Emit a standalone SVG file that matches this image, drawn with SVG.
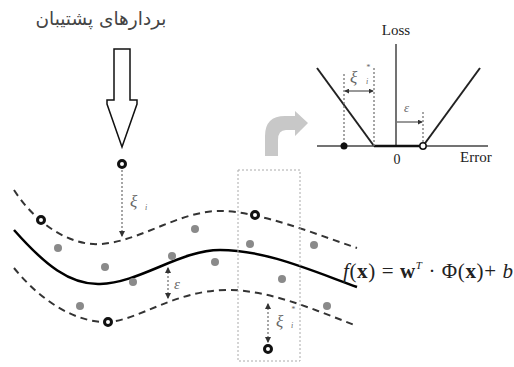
<svg xmlns="http://www.w3.org/2000/svg" width="514" height="367" viewBox="0 0 514 367">
<style>
.dash{fill:none;stroke:#333;stroke-width:2;stroke-dasharray:7,5}
.solid{fill:none;stroke:#000;stroke-width:2.5}
.dot{fill:#8a8a8a}
.sv{fill:#fff;stroke:#111;stroke-width:3}
.dotted{fill:none;stroke:#777;stroke-width:1.3;stroke-dasharray:2,2}
.axis{fill:none;stroke:#444;stroke-width:1.5}
.ser{font-family:"Liberation Serif",serif;fill:#222}
.greek{font-family:"Liberation Serif",serif;font-style:italic;fill:#666}
</style>
<defs>
<marker id="ah" viewBox="0 0 6 6" refX="5" refY="3" markerWidth="5" markerHeight="5" orient="auto-start-reverse"><path d="M0,0 L6,3 L0,6 Z" fill="#333"/></marker>
</defs>

<g id="title"><text x="101" y="25" text-anchor="middle" font-family="DejaVu Sans, sans-serif" font-size="18.5" fill="#444">بردارهای پشتیبان</text></g>

<g id="big-arrow"><path d="M114,49 L130,49 L130,100 L137,100 L137,104 L122,147 L107,104 L107,100 L114,100 Z" fill="#fff" stroke="#111" stroke-width="1.5"/></g>

<g id="curved-arrow"><path d="M265,156 L265,136 Q265,116 285,116 L295,116 L295,111 L308,123 L295,136 L295,130 L286,130 Q278,130 278,140 L278,156 Z" fill="#c8c8c8"/></g>

<g id="band">
<path class="dash" d="M14,190 C36,224 70,246 100,244 C140,242 180,210 222,211 C260,212 310,232 357,248"/>
<path class="solid" d="M14,230 C45,265 70,285 100,284 C140,283 180,250 220,250 C265,250 310,270 357,287"/>
<path class="dash" d="M14,268 C40,300 75,323 108,322 C140,320 175,290 228,290 C270,290 315,310 357,326"/>
</g>

<g id="highlight-box"><rect x="238" y="170" width="62" height="191" fill="none" stroke="#aaa" stroke-width="1" stroke-dasharray="2,2"/></g>

<g id="points">
<circle class="dot" cx="58" cy="248" r="4"/>
<circle class="dot" cx="105" cy="267" r="4"/>
<circle class="dot" cx="133" cy="282" r="4"/>
<circle class="dot" cx="172" cy="256" r="4"/>
<circle class="dot" cx="195" cy="229" r="4"/>
<circle class="dot" cx="215" cy="262" r="4"/>
<circle class="dot" cx="80" cy="306" r="4"/>
<circle class="dot" cx="250" cy="244" r="4"/>
<circle class="dot" cx="314" cy="245" r="4"/>
<circle class="dot" cx="282" cy="279" r="4"/>
<circle class="dot" cx="327" cy="306" r="4"/>
<circle class="sv" cx="122" cy="164" r="3.5"/>
<circle class="sv" cx="41" cy="220" r="3.5"/>
<circle class="sv" cx="255" cy="215" r="3.5"/>
<circle class="sv" cx="108" cy="322" r="3.5"/>
<circle class="sv" cx="268" cy="349" r="3.5"/>
</g>

<g id="connectors">
<line class="dotted" x1="122" y1="170" x2="122" y2="236" marker-end="url(#ah)"/>
<line class="dotted" x1="168" y1="268" x2="168" y2="298" marker-start="url(#ah)" marker-end="url(#ah)"/>
<line class="dotted" x1="268" y1="304" x2="268" y2="342" marker-start="url(#ah)" marker-end="url(#ah)"/>
</g>

<g id="labels">
<text class="greek" x="130" y="207" font-size="17">ξ</text><text class="greek" x="145" y="210" font-size="8">i</text>
<text class="greek" x="174" y="289" font-size="15">ε</text>
<text class="greek" x="276" y="327" font-size="17">ξ</text><text class="greek" x="291" y="312" font-size="8">*</text><text class="greek" x="291" y="328" font-size="8">i</text>
<text class="ser" x="343" y="278" font-size="21" textLength="170" lengthAdjust="spacing"><tspan font-style="italic">f</tspan>(<tspan font-weight="bold">x</tspan>) = <tspan font-weight="bold">w</tspan><tspan font-style="italic" font-size="11" dy="-9">T</tspan><tspan dy="9"> · Φ(</tspan><tspan font-weight="bold">x</tspan>)+ <tspan font-style="italic">b</tspan></text>
</g>

<g id="loss-graph">
<line class="axis" x1="396" y1="44" x2="396" y2="146"/>
<line class="axis" x1="317" y1="146" x2="488" y2="146"/>
<line x1="374" y1="146" x2="423" y2="146" stroke="#111" stroke-width="2.5"/>
<line x1="317" y1="68" x2="374" y2="146" stroke="#222" stroke-width="2"/>
<line x1="423" y1="146" x2="480" y2="68" stroke="#222" stroke-width="2"/>
<line class="dotted" x1="344" y1="74" x2="344" y2="146"/>
<line class="dotted" x1="374" y1="68" x2="374" y2="146"/>
<line class="dotted" x1="423" y1="112" x2="423" y2="146"/>
<line x1="345" y1="91" x2="373" y2="91" stroke="#333" stroke-width="1" marker-start="url(#ah)" marker-end="url(#ah)"/>
<line x1="397" y1="122" x2="422" y2="122" stroke="#333" stroke-width="1" marker-end="url(#ah)"/>
<circle cx="344" cy="146" r="3.5" fill="#111"/>
<circle cx="423" cy="146" r="3.2" fill="#fff" stroke="#111" stroke-width="1.5"/>
<text class="ser" x="396" y="35" font-size="15" text-anchor="middle">Loss</text>
<text class="ser" x="397" y="164" font-size="14" text-anchor="middle">0</text>
<text class="ser" x="460" y="162" font-size="15">Error</text>
<text class="greek" x="350" y="83" font-size="17">ξ</text><text class="greek" x="366" y="70" font-size="8">*</text><text class="greek" x="366" y="84" font-size="8">i</text>
<text class="greek" x="404" y="112" font-size="13">ε</text>
</g>
</svg>
